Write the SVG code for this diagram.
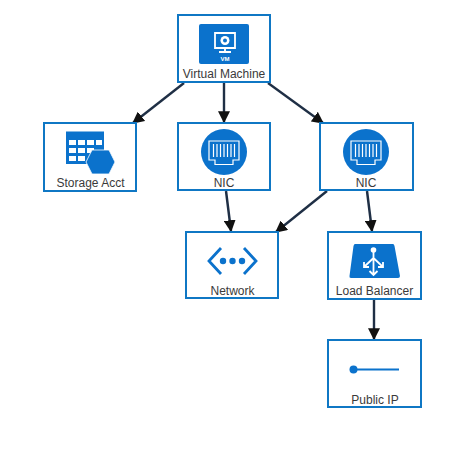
<svg xmlns="http://www.w3.org/2000/svg" width="474" height="449" viewBox="0 0 474 449">
<style>
.box{fill:#fff;stroke:#0f77c4;stroke-width:2}
.lbl{font-family:"Liberation Sans",Arial,sans-serif;font-size:12px;fill:#3a3a3a;text-anchor:middle}
.ic{fill:#0b72cc}
.edge{stroke:#1f2f45;stroke-width:2.4;fill:none;marker-end:url(#arr)}
</style>
<defs>
<marker id="arr" viewBox="0 0 10 10" refX="9" refY="5" markerWidth="5" markerHeight="5" markerUnits="strokeWidth" orient="auto"><path d="M0 0L10 5L0 10z" fill="#111"/></marker>
<g id="nicicon">
<circle cx="0" cy="0" r="23" class="ic"/>
<path d="M-15-11H15V8H9V12.500H-9V8H-15z" fill="none" stroke="#fff" stroke-width="1.200"/>
<path d="M-10.500-8V5M-7-8V5M-3.500-8V5M0-8V5M3.500-8V5M7-8V5M10.500-8V5" stroke="#fff" stroke-width="1.200" fill="none"/>
</g>
</defs>
<rect width="474" height="449" fill="#fff"/>
<g id="connectors">
<line class="edge" x1="184" y1="83" x2="133" y2="123"/>
<line class="edge" x1="224" y1="83" x2="224" y2="122"/>
<line class="edge" x1="268" y1="83" x2="323" y2="123"/>
<line class="edge" x1="226" y1="191" x2="231" y2="231"/>
<line class="edge" x1="327" y1="191" x2="276" y2="232"/>
<line class="edge" x1="367" y1="191" x2="372" y2="231"/>
<line class="edge" x1="374" y1="300" x2="374" y2="339"/>
</g>
<g id="vm">
<rect class="box" x="178" y="15" width="92" height="67"/>
<rect class="ic" x="199" y="24" width="50" height="40" rx="2"/>
<path d="M215 33H235V48H215z" fill="none" stroke="#fff" stroke-width="1.800"/>
<path d="M225 48V51M219 52H231" stroke="#fff" stroke-width="1.800" fill="none"/>
<circle cx="225" cy="40.500" r="4.500" fill="#fff"/>
<circle cx="225" cy="40.500" r="2" class="ic"/>
<text x="225" y="61" font-family="Liberation Sans,sans-serif" font-size="6" font-weight="700" fill="#fff" text-anchor="middle">VM</text>
<text class="lbl" x="224" y="78">Virtual Machine</text>
</g>
<g id="storage">
<rect class="box" x="44" y="123" width="92" height="68"/>
<path class="ic" d="M66 131.500H104V164H66z"/>
<path d="M69 140H76V145H69zM78 140H85V145H78zM87 140H94V145H87zM96 140H102V145H96zM69 148H76V153H69zM78 148H85V153H78zM87 148H94V153H87zM69 156H76V161H69zM78 156H85V161H78z" fill="#fff"/>
<path class="ic" d="M92 150H109L115 162L109 174H92L86 162z" stroke="#fff" stroke-width="0.800"/>
<text class="lbl" x="90.500" y="186.500">Storage Acct</text>
</g>
<g id="nic1">
<rect class="box" x="178" y="123" width="92" height="67"/>
<use href="#nicicon" x="224" y="152"/>
<text class="lbl" x="224" y="186.500">NIC</text>
</g>
<g id="nic2">
<rect class="box" x="320" y="123" width="93" height="67"/>
<use href="#nicicon" x="366" y="152"/>
<text class="lbl" x="366" y="186.500">NIC</text>
</g>
<g id="network">
<rect class="box" x="186" y="232" width="92" height="66"/>
<path d="M221 248L209 261L221 274M244 248L256 261L244 274" fill="none" stroke="#0b72cc" stroke-width="2.800"/>
<circle class="ic" cx="223" cy="261" r="3.200"/><circle class="ic" cx="232.500" cy="261" r="3.200"/><circle class="ic" cx="242" cy="261" r="3.200"/>
<text class="lbl" x="232.500" y="294.500">Network</text>
</g>
<g id="lb">
<rect class="box" x="328" y="232" width="93" height="67"/>
<path class="ic" d="M355 244H393Q394 244 394.500 246L400 276Q400 278 398 278H351Q349 278 349.500 276L353.500 246Q354 244 355 244z"/>
<path d="M373.500 251V274M373.500 258L364.500 266.500M373.500 258L382.500 266.500M369.500 271L373.500 275L377.500 271M364 262V267H369M383 262V267H378" fill="none" stroke="#fff" stroke-width="1.800"/>
<circle cx="373.500" cy="250" r="2.800" fill="#fff"/>
<text class="lbl" x="374.500" y="295">Load Balancer</text>
</g>
<g id="pip">
<rect class="box" x="328" y="340" width="93" height="67"/>
<circle class="ic" cx="353.500" cy="369.500" r="4"/>
<line x1="353.500" y1="369.500" x2="399" y2="369.500" stroke="#0b72cc" stroke-width="1.800"/>
<text class="lbl" x="375" y="403.500">Public IP</text>
</g>
</svg>
